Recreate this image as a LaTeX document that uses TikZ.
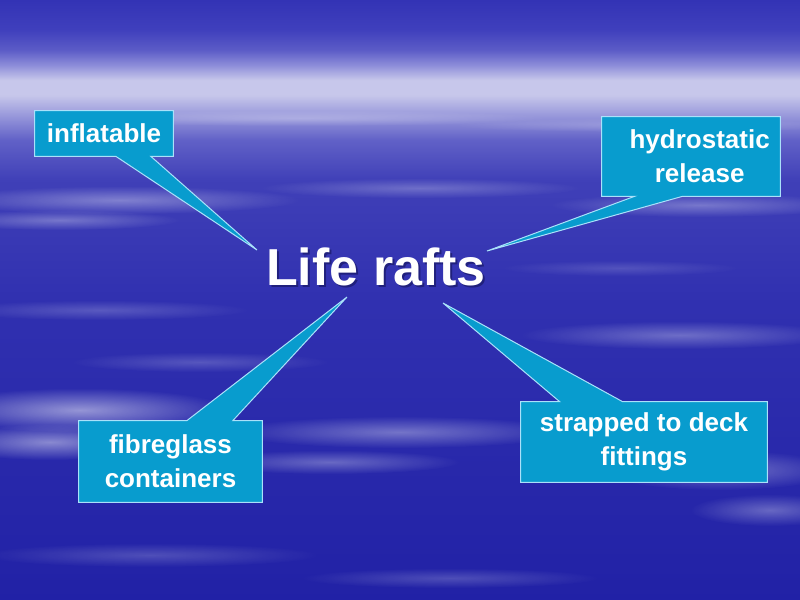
\documentclass[tikz,border=0pt]{standalone}
\usepackage{fontspec}
\setmainfont{Liberation Sans}
\usetikzlibrary{calc,fadings}
\definecolor{cbox}{RGB}{8,156,206}
\definecolor{cedge}{RGB}{170,225,250}
\definecolor{tshadow}{RGB}{20,20,90}
\pgfdeclareverticalshading{sky}{100bp}{%
  rgb(0bp)=(0.13,0.13,0.65);
  rgb(25bp)=(0.13,0.13,0.65);
  rgb(50bp)=(0.19,0.19,0.69);
  rgb(60bp)=(0.25,0.25,0.72);
  rgb(63.33bp)=(0.38,0.38,0.78);
  rgb(65.42bp)=(0.60,0.60,0.86);
  rgb(67.08bp)=(0.78,0.78,0.92);
  rgb(68.33bp)=(0.78,0.78,0.92);
  rgb(69.58bp)=(0.55,0.55,0.85);
  rgb(70.83bp)=(0.36,0.36,0.78);
  rgb(72.5bp)=(0.25,0.25,0.74);
  rgb(75bp)=(0.20,0.20,0.71);
  rgb(100bp)=(0.20,0.20,0.71)}
\tikzfading[name=fuzzy, inner color=transparent!0, outer color=transparent!100]
\pgfdeclarelayer{bg}
\pgfsetlayers{bg,main}
\begin{document}
\begin{tikzpicture}[x=0.75pt,y=-0.75pt,
  callout/.style={fill=cbox, draw=cedge, line width=0.75pt, line join=miter},
  lbl/.style={inner sep=0pt, text=white, align=center,
    font=\bfseries\fontsize{19.5}{25.5}\selectfont},
  titletext/.style={inner sep=0pt, anchor=base,
    font=\bfseries\fontsize{39}{44}\selectfont},
  streak/.style={fill=white, path fading=fuzzy}]
\useasboundingbox (0,0) rectangle (800,600);

% text boxes
\node[lbl, minimum width=103.5pt, minimum height=33.75pt] (infl) at (104,133.5) {inflatable};
\node[lbl, minimum width=133.5pt, minimum height=59.25pt] (hydro) at (691,156.5)
  {\hspace*{13pt}hydrostatic\\\hspace*{13pt}release};
\node[lbl, minimum width=137.25pt, minimum height=60.75pt] (fibre) at (170.5,461.5)
  {fibreglass\\containers};
\node[lbl, minimum width=184.5pt, minimum height=60pt] (strap) at (644,442)
  {strapped to deck\\fittings};

% title
\node[titletext, text=tshadow, opacity=0.6] (titleshadow) at (378,287) {Life rafts};
\node[titletext, text=white] (title) at (376,285) {Life rafts};

% pointer tips
\coordinate (tipI) at (257,250);
\coordinate (tipH) at (487,251);
\coordinate (tipF) at (347,297);
\coordinate (tipS) at (443,303);

\begin{pgfonlayer}{bg}
\shade[shading=sky] (0,0) rectangle (800,600);
% cloud streaks
\fill[streak, fill opacity=0.25] (300,118) ellipse [x radius=250, y radius=8];
\fill[streak, fill opacity=0.20] (650,125) ellipse [x radius=200, y radius=7];
\fill[streak, fill opacity=0.35] (120,200) ellipse [x radius=180, y radius=14];
\fill[streak, fill opacity=0.30] (60,220) ellipse [x radius=120, y radius=10];
\fill[streak, fill opacity=0.25] (420,188) ellipse [x radius=160, y radius=10];
\fill[streak, fill opacity=0.30] (700,205) ellipse [x radius=150, y radius=12];
\fill[streak, fill opacity=0.15] (620,268) ellipse [x radius=120, y radius=8];
\fill[streak, fill opacity=0.20] (100,310) ellipse [x radius=150, y radius=10];
\fill[streak, fill opacity=0.30] (680,335) ellipse [x radius=160, y radius=14];
\fill[streak, fill opacity=0.20] (200,362) ellipse [x radius=130, y radius=10];
\fill[streak, fill opacity=0.50] (80,410) ellipse [x radius=150, y radius=22];
\fill[streak, fill opacity=0.45] (50,442) ellipse [x radius=110, y radius=18];
\fill[streak, fill opacity=0.35] (400,432) ellipse [x radius=170, y radius=16];
\fill[streak, fill opacity=0.30] (330,462) ellipse [x radius=130, y radius=12];
\fill[streak, fill opacity=0.35] (720,470) ellipse [x radius=120, y radius=20];
\fill[streak, fill opacity=0.30] (770,510) ellipse [x radius=80, y radius=16];
\fill[streak, fill opacity=0.20] (150,555) ellipse [x radius=170, y radius=12];
\fill[streak, fill opacity=0.20] (450,578) ellipse [x radius=150, y radius=10];

% callouts
\draw[callout] (infl.north west) -- (infl.north east) -- (infl.south east)
  -- ($(infl.south west)+(116,0)$) -- (tipI) -- ($(infl.south west)+(81,0)$)
  -- (infl.south west) -- cycle;
\draw[callout] (hydro.north west) -- (hydro.north east) -- (hydro.south east)
  -- ($(hydro.south west)+(81,0)$) -- (tipH) -- ($(hydro.south west)+(33,0)$)
  -- (hydro.south west) -- cycle;
\draw[callout] (fibre.north west) -- ($(fibre.north west)+(108,0)$) -- (tipF)
  -- ($(fibre.north west)+(154,0)$) -- (fibre.north east) -- (fibre.south east)
  -- (fibre.south west) -- cycle;
\draw[callout] (strap.north west) -- ($(strap.north west)+(39,0)$) -- (tipS)
  -- ($(strap.north west)+(102,0)$) -- (strap.north east) -- (strap.south east)
  -- (strap.south west) -- cycle;
\end{pgfonlayer}
\end{tikzpicture}
\end{document}
